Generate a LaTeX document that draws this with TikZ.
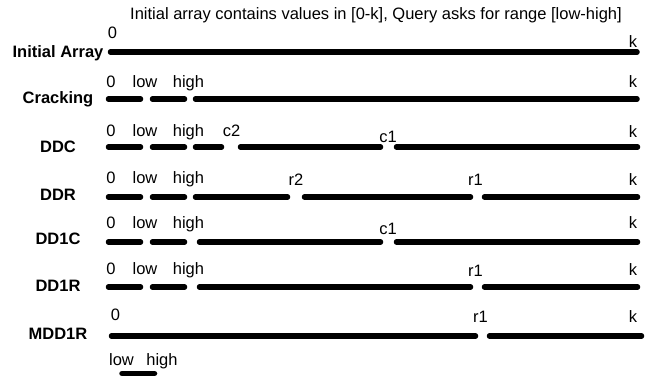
\documentclass[tikz,border=0pt]{standalone}
\usepackage{fontspec}
\setmainfont{Liberation Sans}
\tikzset{
		seg/.style={line width=5.5pt, line cap=round},
		lbl/.style={anchor=base, inner sep=0pt, font=\fontsize{16.5}{18}\selectfont},
		rowname/.style={lbl, font=\fontsize{16.5}{18}\selectfont\bfseries}
	}

\begin{document}
\begin{tikzpicture}[x=1pt, y=-1pt]
    \useasboundingbox (0,0) rectangle (652,375);

    % the title
    \node[lbl] (title) at (376,19) {Initial array contains values in [0-k], Query asks for range [low-high]};

    % the names of the rows
    \node[rowname] (initial) at (58,57) {Initial Array};
    \node[rowname] (cracking) at (58,103) {Cracking};
    \node[rowname] (ddc) at (58,152) {DDC};
    \node[rowname] (ddr) at (58,200) {DDR};
    \node[rowname] (ddonec) at (58,244) {DD1C};
    \node[rowname] (ddoner) at (58,291) {DD1R};
    \node[rowname] (mddoner) at (58,339) {MDD1R};

    % initial array
    \draw[seg] (110.5,52) -- (637,52);
    \node[lbl] (zeroA) at (112.5,38.5) {0};
    \node[lbl] (kA) at (633,47) {k};

    % cracking
    \draw[seg] (108.5,99) -- (140.5,99);
    \draw[seg] (152.5,99) -- (184.5,99);
    \draw[seg] (195.5,99) -- (637,99);
    \node[lbl] (zeroB) at (111,87.5) {0};
    \node[lbl] (lowB) at (145,87.5) {low};
    \node[lbl] (highB) at (188.5,87.5) {high};
    \node[lbl] (kB) at (633,87.5) {k};

    % DDC
    \draw[seg] (108.5,147) -- (140.5,147);
    \draw[seg] (152.5,147) -- (184.5,147);
    \draw[seg] (195.5,147) -- (221.5,147);
    \draw[seg] (240.5,147) -- (380.5,147);
    \draw[seg] (396.5,147) -- (637.5,147);
    \node[lbl] (zeroC) at (111,136) {0};
    \node[lbl] (lowC) at (145,136) {low};
    \node[lbl] (highC) at (188.5,136) {high};
    \node[lbl] (ctwoC) at (231.5,136) {c2};
    \node[lbl] (coneC) at (388,142) {c1};
    \node[lbl] (kC) at (633,137) {k};

    % DDR
    \draw[seg] (108.5,197) -- (140.5,197);
    \draw[seg] (152.5,197) -- (184.5,197);
    \draw[seg] (195.5,197) -- (287.5,197);
    \draw[seg] (304.5,197) -- (470.5,197);
    \draw[seg] (484.5,197) -- (637.5,197);
    \node[lbl] (zeroD) at (111,183) {0};
    \node[lbl] (lowD) at (145,183) {low};
    \node[lbl] (highD) at (188.5,183) {high};
    \node[lbl] (rtwoD) at (296,185) {r2};
    \node[lbl] (roneD) at (475.5,185) {r1};
    \node[lbl] (kD) at (633,185) {k};

    % DD1C
    \draw[seg] (108.5,242) -- (140.5,242);
    \draw[seg] (152.5,242) -- (184.5,242);
    \draw[seg] (199.5,242) -- (380.5,242);
    \draw[seg] (396.5,242) -- (637.5,242);
    \node[lbl] (zeroE) at (111,228) {0};
    \node[lbl] (lowE) at (145,228) {low};
    \node[lbl] (highE) at (188.5,228) {high};
    \node[lbl] (coneE) at (388,234) {c1};
    \node[lbl] (kE) at (633,228) {k};

    % DD1R
    \draw[seg] (108.5,287) -- (140.5,287);
    \draw[seg] (152.5,287) -- (184.5,287);
    \draw[seg] (199.5,287) -- (470.5,287);
    \draw[seg] (484.5,287) -- (637.5,287);
    \node[lbl] (zeroF) at (111,274) {0};
    \node[lbl] (lowF) at (145,274) {low};
    \node[lbl] (highF) at (188.5,274) {high};
    \node[lbl] (roneF) at (475.5,276) {r1};
    \node[lbl] (kF) at (633,275) {k};

    % MDD1R
    \draw[seg] (111.5,336) -- (475.5,336);
    \draw[seg] (489.5,336) -- (641.5,336);
    \node[lbl] (zeroG) at (115.5,320) {0};
    \node[lbl] (roneG) at (480.5,322) {r1};
    \node[lbl] (kG) at (633,322) {k};

    % the query range below
    \node[lbl] (lowQ) at (121.5,365) {low};
    \node[lbl] (highQ) at (162,365) {high};
    \draw[seg] (122,373.5) -- (154.5,373.5);

\end{tikzpicture}
\end{document}
